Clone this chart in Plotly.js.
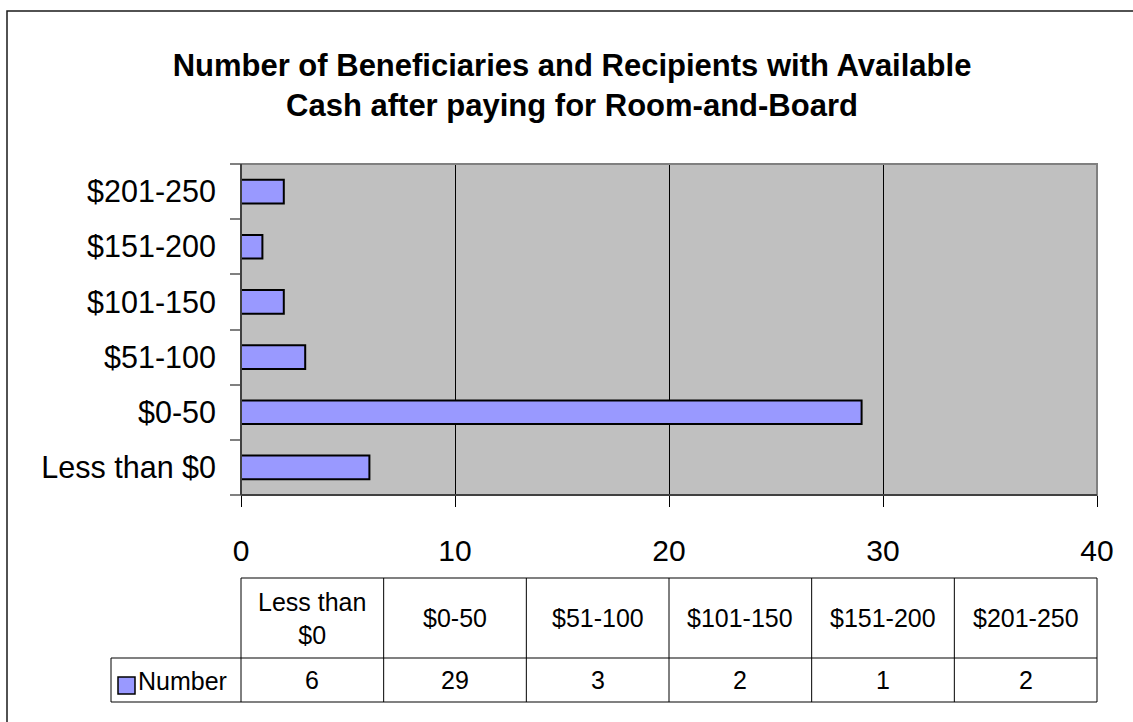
<!DOCTYPE html>
<html>
<head>
<meta charset="utf-8">
<script src="https://cdn.plot.ly/plotly-3.0.1.min.js"></script>
<style>html,body{margin:0;padding:0;background:#fff;}#chart{width:1133px;height:722px;}</style>
</head>
<body>
<div id="chart"></div>
<script>
// ---- data ----
var categories = ["Less than $0", "$0-50", "$51-100", "$101-150", "$151-200", "$201-250"];
var counts = [6, 29, 3, 2, 1, 2];
var seriesName = "Number";
var xTickValues = [0, 10, 20, 30, 40];
var chartTitle = "Number of Beneficiaries and Recipients with Available<br>Cash after paying for Room-and-Board";

// ---- layout helpers (pixel -> paper) ----
var W = 1133, H = 722;
var L = 241, R = 1097, T = 164, B = 495;
function px(x){ return (x - L) / (R - L); }
function py(y){ return (B - y) / (B - T); }
var FONT = "Liberation Sans, Arial, sans-serif";
var barColor = "#9999FF";

var shapes = [];
var annotations = [];

// plot area border (top/right gray)
shapes.push({type:'rect', xref:'paper', yref:'paper', x0:0, x1:1, y0:0, y1:1,
  line:{color:'#808080', width:2}, fillcolor:'rgba(0,0,0,0)', layer:'above'});
// left axis line black
shapes.push({type:'line', xref:'paper', yref:'paper', x0:0, x1:0, y0:0, y1:1,
  line:{color:'#000', width:1}, layer:'above'});
// bottom axis line
shapes.push({type:'line', xref:'paper', yref:'paper', x0:0, x1:1, y0:0, y1:0,
  line:{color:'#404040', width:2}, layer:'above'});

// outer chart border
shapes.push({type:'rect', xref:'paper', yref:'paper', x0:px(7), x1:px(1145), y0:py(730), y1:py(11),
  line:{color:'#1a1a1a', width:1.5}, fillcolor:'rgba(0,0,0,0)'});

// ---- data table ----
var n = categories.length;
var tTop = 578, tMid = 658, tBot = 702, legLeft = 111;
var gray = '#808080';
shapes.push({type:'line', xref:'paper', yref:'paper', x0:0, x1:1, y0:py(tTop), y1:py(tTop), line:{color:gray, width:2}});
shapes.push({type:'line', xref:'paper', yref:'paper', x0:px(legLeft), x1:1, y0:py(tMid), y1:py(tMid), line:{color:gray, width:2}});
shapes.push({type:'line', xref:'paper', yref:'paper', x0:px(legLeft), x1:1, y0:py(tBot), y1:py(tBot), line:{color:gray, width:2}});
shapes.push({type:'line', xref:'paper', yref:'paper', x0:px(legLeft), x1:px(legLeft), y0:py(tMid), y1:py(tBot), line:{color:'#000', width:1}});
for (var i = 0; i <= n; i++) {
  shapes.push({type:'line', xref:'paper', yref:'paper', x0:i/n, x1:i/n, y0:py(tTop), y1:py(tBot), line:{color:'#000', width:1}});
}
for (var j = 0; j < n; j++) {
  var hdr = categories[j].length > 10 ? categories[j].replace(/ (\S+)$/, '<br>$1') : categories[j];
  annotations.push({xref:'paper', yref:'paper', x:(j+0.5)/n, y:py((tTop+tMid)/2), text:hdr,
    showarrow:false, xanchor:'center', yanchor:'middle', align:'center',
    font:{family:FONT, size:25, color:'#000'}});
  annotations.push({xref:'paper', yref:'paper', x:(j+0.5)/n, y:py((tMid+tBot)/2), text:String(counts[j]),
    showarrow:false, xanchor:'center', yanchor:'middle',
    font:{family:FONT, size:25, color:'#000'}});
}
// legend key + series name
shapes.push({type:'rect', xref:'paper', yref:'paper', x0:px(118), x1:px(135), y0:py(694), y1:py(677),
  fillcolor:barColor, line:{color:'#000', width:1.5}});
annotations.push({xref:'paper', yref:'paper', x:px(136), y:py(681), text:seriesName,
  showarrow:false, xanchor:'left', yanchor:'middle',
  font:{family:FONT, size:25, color:'#000'}});

var trace = {
  type:'bar', orientation:'h', name:seriesName,
  x: counts, y: categories,
  width: 0.43,
  marker:{color:barColor, line:{color:'#000', width:2}},
  hoverinfo:'x+y'
};

var layout = {
  width:W, height:H,
  margin:{l:L, r:W-R, t:T, b:H-B, pad:0},
  paper_bgcolor:'#fff', plot_bgcolor:'#C0C0C0',
  showlegend:false,
  font:{family:FONT, color:'#000'},
  title:{text:'<b>'+chartTitle+'</b>', xref:'container', yref:'container', x:572/W, y:1-76/H,
    xanchor:'center', yanchor:'middle', font:{family:FONT, size:31, color:'#000'}},
  xaxis:{range:[0,40], tickvals:xTickValues, ticks:'outside', ticklen:11, tickcolor:'#000', tickwidth:1,
    showgrid:true, gridcolor:'#000', gridwidth:1, zeroline:false, showline:false,
    tickfont:{family:FONT, size:30, color:'#000'}, ticklabelstandoff:18, fixedrange:true},
  yaxis:{type:'category', categoryorder:'array', categoryarray:categories,
    ticks:'outside', tickson:'boundaries', ticklen:10, tickcolor:'#808080', tickwidth:2,
    showgrid:false, zeroline:false, showline:false,
    tickfont:{family:FONT, size:30.5, color:'#000'}, ticklabelstandoff:24, fixedrange:true},
  shapes:shapes,
  annotations:annotations
};

Plotly.newPlot('chart', [trace], layout, {displayModeBar:false, staticPlot:true});
</script>
</body>
</html>
